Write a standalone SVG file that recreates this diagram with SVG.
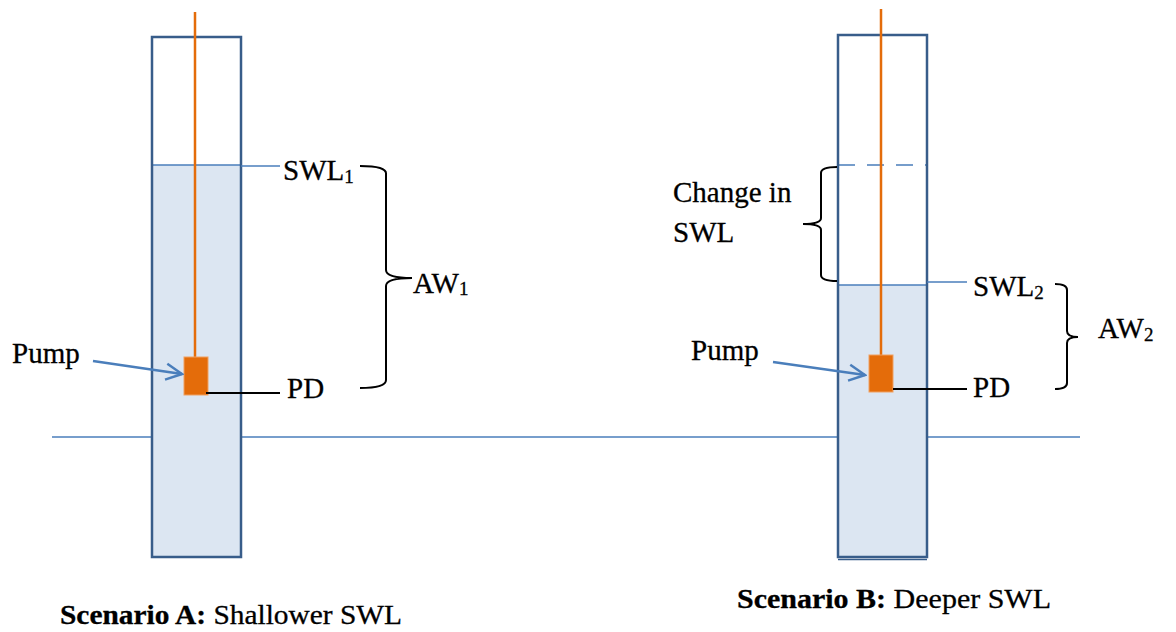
<svg xmlns="http://www.w3.org/2000/svg" width="1176" height="632" viewBox="0 0 1176 632">
<defs>
<style>
.well{fill:none;stroke:#385D8A;stroke-width:2.5}
.water{fill:#DCE6F2;stroke:none}
.wl{stroke:#4A7EBB;stroke-width:1.5;fill:none}
.pipe{stroke:#E46C0A;stroke-width:2.5;fill:none}
.pump{fill:#E46C0A;stroke:#F0A060;stroke-width:1}
.blk{stroke:#000;stroke-width:2;fill:none}
.brace{stroke:#000;stroke-width:2;fill:none}
.arrow{stroke:#4A7EBB;stroke-width:2.5;fill:none}
.lbl{font-size:29px}
.sub{font-size:19px}
.cap{font-size:27px}
.b{font-weight:bold}
</style>
<marker id="openArrow" viewBox="0 0 20 20" refX="18" refY="10" markerWidth="20" markerHeight="20" markerUnits="userSpaceOnUse" orient="auto">
<path d="M2,2 L18,10 L2,18" fill="none" stroke="#4A7EBB" stroke-width="2.5"/>
</marker>
</defs>
<rect width="1176" height="632" fill="#fff"/>

<g id="ground">
<line class="wl" x1="52" y1="437" x2="1080" y2="437"/>
</g>

<g id="wellA">
<rect class="water" x="152" y="165" width="89" height="392"/>
<line class="wl" x1="152" y1="165" x2="241" y2="165"/>
<rect class="well" x="152" y="37" width="89" height="520"/>
<line class="pipe" x1="195" y1="12" x2="195" y2="358"/>
</g>

<g id="pumpA">
<rect class="pump" x="184" y="357" width="24" height="38"/>
</g>

<g id="wellB">
<rect class="water" x="838" y="285" width="89" height="272"/>
<line class="wl" x1="838" y1="285" x2="927" y2="285"/>
<line class="wl" x1="838" y1="165" x2="927" y2="165" stroke-dasharray="17,12"/>
<rect class="well" x="838" y="35" width="89" height="522"/>
<line x1="838" y1="559.5" x2="927" y2="559.5" stroke="#385D8A" stroke-width="1.5"/>
<line class="pipe" x1="881" y1="9" x2="881" y2="356"/>
</g>

<g id="pumpB">
<rect class="pump" x="869" y="355" width="24" height="37"/>
</g>

<g id="connectors">
<line class="wl" x1="241" y1="166" x2="280" y2="166"/>
<line class="blk" x1="206" y1="393" x2="280" y2="393"/>
<line class="wl" x1="927" y1="282" x2="967" y2="282"/>
<line class="blk" x1="893" y1="389" x2="967" y2="389"/>
<line class="arrow" x1="93" y1="361" x2="182" y2="374" marker-end="url(#openArrow)"/>
<line class="arrow" x1="773" y1="362" x2="865" y2="375" marker-end="url(#openArrow)"/>
<path class="brace" d="M360,166 Q387,166 386,174 L386,270 Q386,278 412,278 Q386,278 386,286 L386,380 Q386,388 360,388"/>
<path class="brace" d="M1055,284 Q1067,284 1067,290 L1067,331 Q1067,337 1078,337 Q1067,337 1067,343 L1067,383 Q1067,389 1055,389"/>
<path class="brace" d="M837,167 Q821,167 821,173 L821,218 Q821,224 803,224 Q821,224 821,230 L821,275 Q821,281 837,281"/>
</g>

<g id="labels" font-family="'Liberation Serif', 'Times New Roman', serif" fill="#000" stroke="#000" stroke-width="0.3">
<text class="lbl" x="283" y="180">SWL<tspan class="sub" dy="3">1</tspan></text>
<text class="lbl" x="413" y="293">AW<tspan class="sub" dy="2">1</tspan></text>
<text class="lbl" x="287" y="398">PD</text>
<text class="lbl" x="12" y="363">Pump</text>
<text class="lbl" x="673" y="202">Change in</text>
<text class="lbl" x="673" y="242">SWL</text>
<text class="lbl" x="973" y="296">SWL<tspan class="sub" dy="3">2</tspan></text>
<text class="lbl" x="1098" y="338">AW<tspan class="sub" dy="3">2</tspan></text>
<text class="lbl" x="973" y="397">PD</text>
<text class="lbl" x="691" y="360">Pump</text>
<text class="cap" x="60" y="624" textLength="342" lengthAdjust="spacingAndGlyphs"><tspan class="b">Scenario A:</tspan> Shallower SWL</text>
<text class="cap" x="737" y="608" textLength="314" lengthAdjust="spacingAndGlyphs"><tspan class="b">Scenario B:</tspan> Deeper SWL</text>
</g>
</svg>
